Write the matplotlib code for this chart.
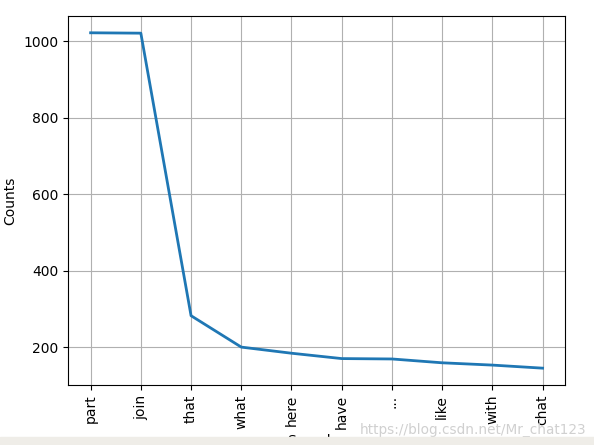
import matplotlib
matplotlib.use("Agg")
import matplotlib.pyplot as plt

words = ["part", "join", "that", "what", "here", "have", "...", "like", "with", "chat"]
counts = [1022, 1021, 283, 201, 185, 171, 170, 160, 154, 146]

fig = plt.figure(figsize=(5.94, 4.45), dpi=100)
ax = fig.add_axes([0.1145, 0.135, 0.837, 0.829])
ax.plot(range(len(words)), counts, linewidth=2, color="#1f77b4")
ax.grid(True, color="#b0b0b0")
ax.set_xticks(range(len(words)))
ax.set_xticklabels(words, rotation=90)
ax.set_ylabel("Counts")
ax.set_xlabel("Samples")

# bottom strip and watermark as in the screenshot
fig.patches.append(plt.Rectangle((0, 0), 1, 0.018, transform=fig.transFigure,
                                 color="#efede8", zorder=5))
fig.text(0.605, 0.025, "https://blog.csdn.net/Mr_chat123", color="#d0d0d0",
         fontsize=9.8)

fig.savefig("out.png", dpi=100)
